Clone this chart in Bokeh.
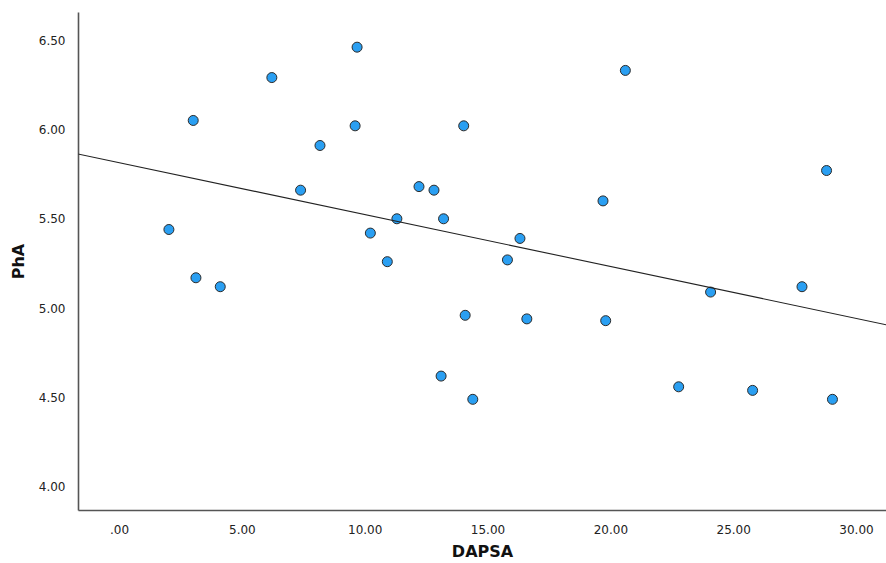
import numpy as np
from bokeh.plotting import figure
from bokeh.models import FixedTicker, Range1d, Slope, ColumnDataSource
from bokeh.embed import file_html
from bokeh.resources import INLINE

# Data
dapsa = [2.01, 3.00, 3.11, 4.10, 6.20, 7.37, 8.16, 9.59, 9.67, 10.21,
         10.90, 11.29, 12.19, 12.80, 13.19, 13.09, 14.01, 14.07, 14.38, 15.79,
         16.30, 16.58, 19.68, 19.79, 20.59, 22.76, 24.06, 25.77, 27.78, 28.78, 29.02]
pha = [5.44, 6.05, 5.17, 5.12, 6.29, 5.66, 5.91, 6.02, 6.46, 5.42,
       5.26, 5.50, 5.68, 5.66, 5.50, 4.62, 6.02, 4.96, 4.49, 5.27,
       5.39, 4.94, 5.60, 4.93, 6.33, 4.56, 5.09, 4.54, 5.12, 5.77, 4.49]

x_ticks = [0, 5, 10, 15, 20, 25, 30]
x_tick_labels = [".00", "5.00", "10.00", "15.00", "20.00", "25.00", "30.00"]
y_ticks = [4.0, 4.5, 5.0, 5.5, 6.0, 6.5]
y_tick_labels = ["4.00", "4.50", "5.00", "5.50", "6.00", "6.50"]

x_label = "DAPSA"
y_label = "PhA"

slope, intercept = np.polyfit(np.array(dapsa), np.array(pha), 1)

p = figure(width=886, height=563, output_backend="svg", toolbar_location=None,
           x_range=Range1d(-1.67, 31.22), y_range=Range1d(3.868, 6.654),
           min_border_left=78, min_border_right=0, min_border_top=12, min_border_bottom=53)

p.outline_line_color = None
p.xgrid.visible = False
p.ygrid.visible = False
p.background_fill_color = "white"
p.border_fill_color = "white"

p.xaxis.ticker = FixedTicker(ticks=x_ticks)
p.xaxis.major_label_overrides = {t: l for t, l in zip(x_ticks, x_tick_labels)}
p.yaxis.ticker = FixedTicker(ticks=y_ticks)
p.yaxis.major_label_overrides = {t: l for t, l in zip(y_ticks, y_tick_labels)}

for ax in (p.xaxis, p.yaxis):
    ax.axis_line_color = "#555555"
    ax.axis_line_width = 1.6
    ax.major_tick_line_color = None
    ax.minor_tick_line_color = None
    ax.major_label_text_font = "DejaVu Sans"
    ax.major_label_text_font_size = "12px"
    ax.major_label_text_color = "#222222"
    ax.axis_label_text_font = "DejaVu Sans"
    ax.axis_label_text_font_size = "16px"
    ax.axis_label_text_font_style = "bold"
    ax.axis_label_text_color = "#111111"

p.xaxis.axis_label = x_label
p.yaxis.axis_label = y_label
p.xaxis.major_label_standoff = 8
p.yaxis.major_label_standoff = 7
p.xaxis.axis_label_standoff = 5
p.yaxis.axis_label_standoff = 8

p.add_layout(Slope(gradient=slope, y_intercept=intercept, line_color="#222222", line_width=1.1))

src = ColumnDataSource(dict(x=dapsa, y=pha))
p.scatter("x", "y", source=src, size=10, fill_color="#2a9ff2", line_color="#2b2b2b", line_width=1)

open("out.html", "w").write(file_html(p, INLINE))
